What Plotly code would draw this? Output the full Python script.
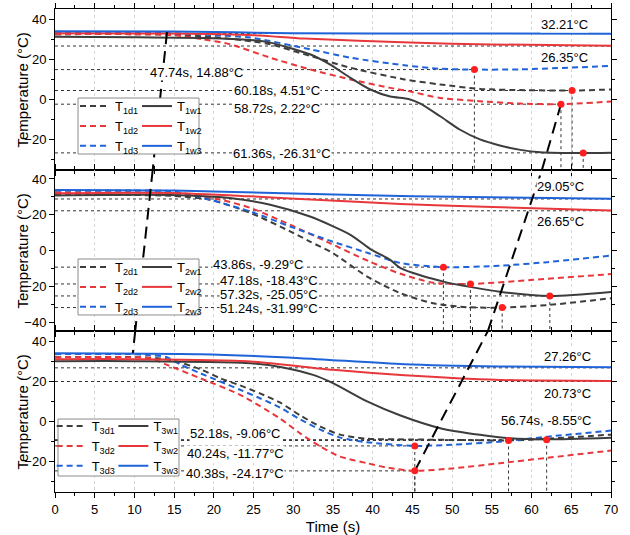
import plotly.graph_objects as go
from plotly.subplots import make_subplots

# ---------------- data (time in s, temperature in °C) ----------------
# Panel 1
T1D1_T = [0, 10, 15, 20, 25, 27.1, 32.1, 37.2, 44, 48.5, 53.5, 58.6, 65.1, 70]
T1D1_Y = [32.5, 32.5, 32.2, 31, 28.8, 27.5, 21.7, 15.8, 10, 7.5, 5.3, 4.7, 4.5, 5]
T1D2_T = [0, 10, 15, 18.6, 22, 27.1, 32.1, 37.2, 42.2, 44.5, 48.5, 53.5, 58.6, 63.7, 70]
T1D2_Y = [32.5, 32.5, 32, 30, 27.5, 20.8, 15, 10, 5.8, 4.2, 0.8, -0.8, -2, -2.3, -1]
T1D3_T = [0, 10, 15, 20, 24.6, 32.1, 37.2, 44, 48.5, 52.8, 58.6, 70]
T1D3_Y = [33.3, 33.3, 33, 32, 30.8, 25, 20.8, 17, 15.3, 14.9, 15, 16.7]
T1W1_T = [0, 10, 20, 25, 27.1, 32.1, 34.6, 37.2, 39.7, 42.2, 44.5, 46, 48.5, 51, 53.5, 56, 58.6, 61.1, 66.5, 70]
T1W1_Y = [31.2, 31, 30.5, 29.5, 28.3, 22.5, 17.5, 10.8, 5, 1.5, 0.3, -2, -8.3, -15, -19.8, -22.8, -25, -26.2, -26.6, -26.4]
T1W2_T = [0, 15, 25, 31.4, 44.7, 55, 70]
T1W2_Y = [33, 32.8, 32, 30.3, 28.3, 27.4, 26.7]
T1W3_T = [0, 15, 30, 50, 70]
T1W3_Y = [34, 33.8, 33, 32.8, 32.7]

# Panel 2
T2D1_T = [0, 10, 15, 19.5, 24.6, 29.6, 32.1, 35, 39.3, 43.5, 47.6, 51.9, 56.3, 62.3, 70]
T2D1_Y = [31, 31, 30.5, 28.4, 21, 10.7, 5, -1.5, -14.6, -23.9, -29.5, -31.7, -31.9, -30.4, -26.7]
T2D2_T = [0, 10, 15, 20.8, 24.6, 29.6, 34.6, 39.5, 43.5, 47.6, 52.3, 60.2, 70]
T2D2_Y = [32.5, 32.5, 32, 28.4, 23.8, 14.4, 4.1, -6, -13, -18, -18.7, -16.4, -13.2]
T2D3_T = [0, 10, 15, 19.5, 24.6, 29.6, 34.6, 39.5, 43.5, 48.9, 56, 62, 70]
T2D3_Y = [33.5, 33.5, 33, 28.4, 21.8, 13.4, 5.5, -1.5, -7, -9.3, -8.5, -6.5, -2.8]
T2W1_T = [0, 14.5, 22, 27.1, 32.1, 37.2, 39.7, 42.2, 43.5, 48.9, 56, 62.3, 70]
T2W1_Y = [30.8, 31, 29.3, 25.6, 19, 8.8, 0.8, -5.2, -9.9, -17.4, -23, -25.4, -23.2]
T2W2_T = [0, 14.5, 24.6, 30.9, 43.5, 51.9, 70]
T2W2_Y = [32, 32.2, 30.3, 28.8, 26, 24.7, 22.3]
T2W3_T = [0, 15, 30, 45, 70]
T2W3_Y = [33.8, 33.5, 31.8, 30.3, 28.9]

# Panel 3
T3D1_T = [0, 10, 13, 15.3, 18.3, 20.8, 23.3, 25.8, 28.3, 30.9, 33.4, 35.9, 39.3, 45, 52, 57.1, 62, 70]
T3D1_Y = [32, 32, 31.5, 29.9, 26, 21.5, 18, 14, 9.5, 3, -2.5, -6.5, -8.5, -8.9, -9.2, -9.4, -8.5, -6.5]
T3D2_T = [0, 9, 12, 14.1, 18.3, 23.3, 28.3, 30.9, 33.4, 35.9, 39.3, 42, 45.3, 50, 56, 62, 70]
T3D2_Y = [32, 32, 31.5, 28.2, 21.5, 13.3, 1.6, -6, -12.4, -17.4, -20.7, -23, -24.5, -23.3, -20.7, -18, -14.4]
T3D3_T = [0, 10, 12, 14.1, 15.7, 18.3, 20.8, 23.3, 25.8, 28.3, 30.9, 33.4, 35.9, 39.3, 45.3, 50, 56, 62, 70]
T3D3_Y = [33.5, 33.5, 33, 32, 28.5, 24, 19.9, 15.8, 11.6, 7, 1, -4, -8, -10.3, -12.1, -11.5, -10, -7.5, -4.5]
T3W1_T = [0, 10, 24.6, 28.7, 32.5, 35, 39.3, 43.5, 48.5, 53.5, 57.3, 62, 70]
T3W1_Y = [30, 30, 29, 26.9, 23.2, 19.1, 10, 3, -3.3, -6.6, -8.3, -8.8, -8]
T3W2_T = [0, 10, 24.6, 35, 44, 56, 70]
T3W2_Y = [31, 31, 29.9, 25.7, 23, 20.7, 20.2]
T3W3_T = [0, 18.3, 30.9, 44, 56, 70]
T3W3_Y = [34, 33.5, 31.5, 28.5, 27.4, 27]

# Minimum points (marked) per panel
MIN1_T = [52.8, 63.7, 65.1, 66.5]
MIN1_Y = [14.9, -2.3, 4.5, -26.5]
MIN2_T = [48.9, 52.3, 56.3, 62.3]
MIN2_Y = [-9.3, -18.7, -31.9, -25.4]
MIN3_T = [45.3, 45.3, 57.1, 61.9]
MIN3_Y = [-12.1, -24.5, -9.4, -9.0]

# Final levels (full-width reference lines)
LEVEL1 = [32.8, 26.6]
LEVEL2 = [28.8, 22.2]
LEVEL3 = [26.7, 19.9]

# Trend guide lines (two long-dash lines crossing the panels)
GUIDE_A_T = {1: [14.1, 12.3], 2: [12.3, 10.1], 3: [10.1, 9.8]}
GUIDE_A_Y = {1: [33.5, -35], 2: [45, -45], 3: [45, 34]}
GUIDE_B_T = {1: [61.3, 63.7], 2: [54.5, 61.3], 3: [45.3, 54.5]}
GUIDE_B_Y = {1: [-35, -2.3], 2: [-45, 45], 3: [-24.5, 45]}

# Label texts
LABELS1 = ["32.21°C", "26.35°C", "47.74s, 14.88°C", "60.18s, 4.51°C", "58.72s, 2.22°C", "61.36s, -26.31°C"]
LABELS2 = ["29.05°C", "26.65°C", "43.86s, -9.29°C", "47.18s, -18.43°C", "57.32s, -25.05°C", "51.24s, -31.99°C"]
LABELS3 = ["27.26°C", "20.73°C", "56.74s, -8.55°C", "52.18s, -9.06°C", "40.24s, -11.77°C", "40.38s, -24.17°C"]

X_RANGE = [0, 70]
Y_RANGES = {1: [-35, 45], 2: [-45, 45], 3: [-35, 45]}
Y_TITLE = "Temperature (°C)"
X_TITLE = "Time (s)"

# ---------------- styling / layout ----------------
FONT = "Liberation Sans, Arial, sans-serif"
COLORS = ["#3d3d3d", "#e8373b", "#1f63d8"]
REF_COLOR = "#333333"

LABEL_POS = {
    1: [(64.1, 37.5), (64.1, 21), (17.8, 13.5), (28.0, 4.5), (28.0, -4.5), (28.6, -27)],
    2: [(63.6, 35.7), (63.6, 16.1), (25.6, -8.0), (27.0, -16.9), (27.0, -24.7), (27.0, -32.5)],
    3: [(64.5, 32.3), (64.5, 13.9), (61.8, 0.5), (22.7, -6.0), (22.7, -15.9), (22.7, -25.9)],
}

series = {
    1: [(T1D1_T, T1D1_Y), (T1D2_T, T1D2_Y), (T1D3_T, T1D3_Y),
        (T1W1_T, T1W1_Y), (T1W2_T, T1W2_Y), (T1W3_T, T1W3_Y)],
    2: [(T2D1_T, T2D1_Y), (T2D2_T, T2D2_Y), (T2D3_T, T2D3_Y),
        (T2W1_T, T2W1_Y), (T2W2_T, T2W2_Y), (T2W3_T, T2W3_Y)],
    3: [(T3D1_T, T3D1_Y), (T3D2_T, T3D2_Y), (T3D3_T, T3D3_Y),
        (T3W1_T, T3W1_Y), (T3W2_T, T3W2_Y), (T3W3_T, T3W3_Y)],
}
mins = {1: (MIN1_T, MIN1_Y), 2: (MIN2_T, MIN2_Y), 3: (MIN3_T, MIN3_Y)}
levels = {1: LEVEL1, 2: LEVEL2, 3: LEVEL3}
labels = {1: LABELS1, 2: LABELS2, 3: LABELS3}

fig = make_subplots(rows=3, cols=1, shared_xaxes=True, vertical_spacing=0)

legend_names = {1: ("legend", "legend2"), 2: ("legend3", "legend4"), 3: ("legend5", "legend6")}
ref_line = dict(color=REF_COLOR, width=1, dash="3px,3px")

for p in (1, 2, 3):
    ymin = Y_RANGES[p][0]
    for lv in levels[p]:
        fig.add_trace(go.Scatter(x=X_RANGE, y=[lv, lv], mode="lines", line=ref_line,
                                 showlegend=False, hoverinfo="skip"), row=p, col=1)
    mt, my = mins[p]
    for xv, yv in zip(mt, my):
        fig.add_trace(go.Scatter(x=[X_RANGE[0], xv], y=[yv, yv], mode="lines", line=ref_line,
                                 showlegend=False, hoverinfo="skip"), row=p, col=1)
        fig.add_trace(go.Scatter(x=[xv, xv], y=[yv, ymin], mode="lines", line=ref_line,
                                 showlegend=False, hoverinfo="skip"), row=p, col=1)
    for i, (tt, yy) in enumerate(series[p]):
        kind = "d" if i < 3 else "w"
        k = i % 3
        fig.add_trace(go.Scatter(
            x=tt, y=yy, mode="lines",
            line=dict(color=COLORS[k], width=2, shape="spline", smoothing=0.7,
                      dash="6px,4px" if kind == "d" else "solid"),
            name=f"T<sub>{p}{kind}{k+1}</sub>",
            legend=legend_names[p][0] if kind == "d" else legend_names[p][1],
            hoverinfo="skip"), row=p, col=1)
    for gt, gy in ((GUIDE_A_T[p], GUIDE_A_Y[p]), (GUIDE_B_T[p], GUIDE_B_Y[p])):
        fig.add_trace(go.Scatter(x=gt, y=gy, mode="lines",
                                 line=dict(color="black", width=2, dash="12px,7px"),
                                 showlegend=False, hoverinfo="skip"), row=p, col=1)
    fig.add_trace(go.Scatter(x=mt, y=my, mode="markers",
                             marker=dict(color="#ff1f1f", size=7),
                             showlegend=False, hoverinfo="skip"), row=p, col=1)
    for txt, (lx, ly) in zip(labels[p], LABEL_POS[p]):
        fig.add_annotation(x=lx, y=ly, text=txt, showarrow=False, bgcolor="white",
                           borderpad=0, font=dict(size=13, color="black", family=FONT),
                           row=p, col=1)
    yref = "y domain" if p == 1 else f"y{p} domain"
    fig.add_annotation(x=-0.0576, y=0.5, xref="paper", yref=yref, text=Y_TITLE,
                       textangle=-90, showarrow=False, xanchor="center", yanchor="middle",
                       font=dict(size=15, color="black", family=FONT))

axis_common = dict(showline=True, linecolor="black", linewidth=1, mirror="ticks",
                   ticks="outside", ticklen=5, tickcolor="black",
                   tickfont=dict(size=13, color="black", family=FONT),
                   zeroline=False, automargin=False)

for p in (1, 2, 3):
    fig.update_xaxes(range=X_RANGE, tick0=0, dtick=5,
                     showgrid=True, gridcolor="#d6d6d6", griddash="dot", gridwidth=1,
                     minor=dict(dtick=2.5, ticklen=3, ticks="outside", tickcolor="black",
                                showgrid=False),
                     **axis_common, row=p, col=1)
    fig.update_yaxes(range=Y_RANGES[p], tick0=0, dtick=20, showgrid=False,
                     minor=dict(dtick=10, ticklen=3, ticks="outside", tickcolor="black",
                                showgrid=False),
                     **axis_common, row=p, col=1)

fig.update_xaxes(title=dict(text=X_TITLE, font=dict(size=15, family=FONT, color="black"),
                            standoff=6), row=3, col=1)

legend_common = dict(bgcolor="rgba(0,0,0,0)", borderwidth=0, xanchor="left", yanchor="top",
                     font=dict(size=13, family=FONT, color="black"), tracegroupgap=0,
                     itemwidth=30, orientation="v")
fig.update_layout(
    legend=dict(x=0.036, y=0.830, **legend_common),
    legend2=dict(x=0.1475, y=0.830, **legend_common),
    legend3=dict(x=0.036, y=0.4968, **legend_common),
    legend4=dict(x=0.1475, y=0.4968, **legend_common),
    legend5=dict(x=-0.006, y=0.1676, **legend_common),
    legend6=dict(x=0.105, y=0.1676, **legend_common),
)

for (x0, x1, y0, y1) in [(0.0414, 0.259, 0.6998, 0.8157),
                         (0.0414, 0.259, 0.3665, 0.4824),
                         (0.0054, 0.223, 0.0331, 0.1511)]:
    fig.add_shape(type="rect", xref="paper", yref="paper", x0=x0, x1=x1, y0=y0, y1=y1,
                  fillcolor="white", line=dict(color="#8c8c8c", width=1), layer="above")

fig.update_layout(
    width=630, height=535,
    margin=dict(l=55, r=19, t=9, b=43, autoexpand=False),
    plot_bgcolor="white", paper_bgcolor="white",
    font=dict(family=FONT, color="black"),
    hovermode=False,
)

fig.write_html("out.html", config={"displayModeBar": False},
               post_script="document.body.style.margin='0';document.body.style.overflow='hidden';")
